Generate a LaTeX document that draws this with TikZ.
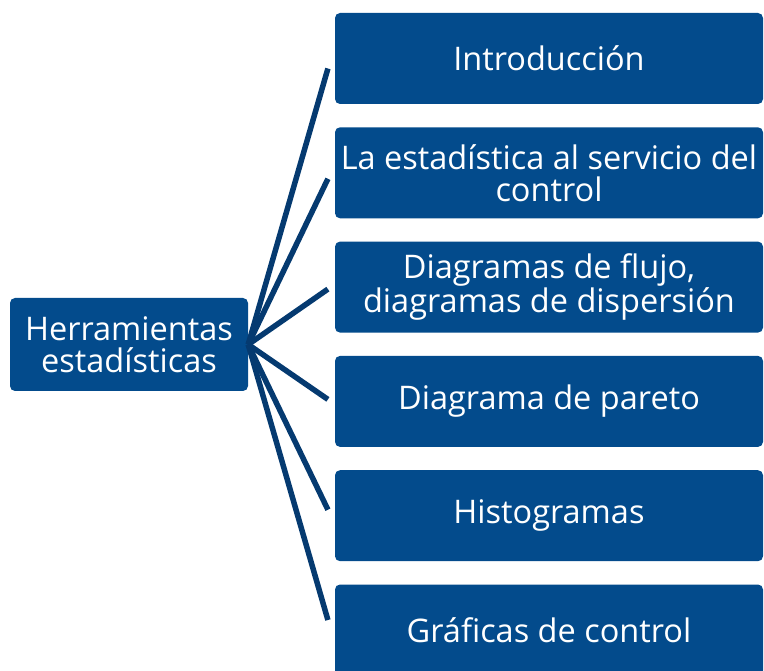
\documentclass[tikz,border=0pt]{standalone}
\usepackage{fontspec}
\setmainfont{Open Sans}
\usepackage{tikz}
\usetikzlibrary{calc,positioning}
\definecolor{boxblue}{RGB}{3,75,140}
\definecolor{linkblue}{RGB}{5,58,112}
\tikzset{%
	root/.style  = {fill=boxblue, rounded corners=5pt, minimum width=238pt, minimum height=93pt, inner sep=1pt, text=white, align=center, font=\fontsize{32.5}{32}\selectfont}, % left box
	topic/.style = {fill=boxblue, rounded corners=5pt, minimum width=428pt, minimum height=91pt, inner sep=1pt, text=white, align=center, font=\fontsize{32.5}{32}\selectfont}, % right boxes
	link/.style  = {draw=linkblue, line width=5.5pt},
}

\begin{document}
\begin{tikzpicture}[x=1pt, y=-1pt, node distance = 114.3pt]
	\useasboundingbox (0,0) rectangle (764,671);
	\node[root] (herr) at (129,344.5) {Herramientas\\estadísticas};
	\node[topic] (b1) at (549,58.5) {Introducción};
	\node[topic, below of=b1] (b2) {La estadística al servicio del\\control};
	\node[topic, below of=b2] (b3) {Diagramas de flujo,\\diagramas de dispersión};
	\node[topic, below of=b3] (b4) {Diagrama de pareto};
	\node[topic, below of=b4] (b5) {Histogramas};
	\node[topic, below of=b5] (b6) {Gráficas de control};
	\foreach \i in {1,...,6}
		\draw[link] (herr.east) -- ($(herr.east)!0.965!([xshift=-4pt]b\i.west)$);
\end{tikzpicture}
\end{document}
